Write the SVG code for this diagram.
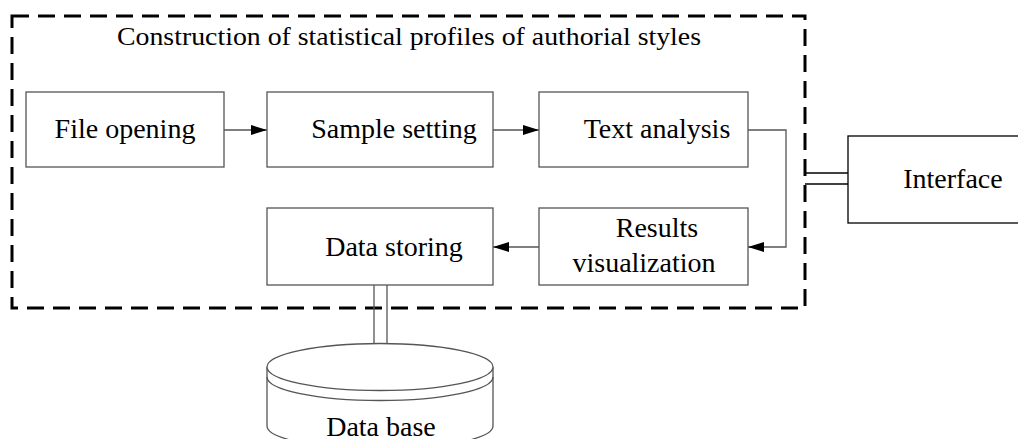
<svg xmlns="http://www.w3.org/2000/svg" width="1018" height="439" viewBox="0 0 1018 439">
<style>
.box{fill:#fff;stroke:#555;stroke-width:1.3}
.t{font-family:"Liberation Serif",serif;font-size:28px;fill:#000}
.c{fill:none;stroke:#555;stroke-width:1.3}
.k{fill:none;stroke:#000;stroke-width:1.3}
</style>
<defs>
<marker id="ah" viewBox="0 0 16 10" refX="16" refY="5" markerWidth="16" markerHeight="10" markerUnits="userSpaceOnUse" orient="auto">
<path d="M0,0 L16,5 L0,10 Z" fill="#000"/>
</marker>
</defs>
<rect width="1018" height="439" fill="#fff"/>
<g id="frame">
<rect x="12" y="16" width="793" height="292" fill="none" stroke="#000" stroke-width="3" stroke-dasharray="17 9"/>
<text class="t" x="117" y="45" style="font-size:26px" textLength="584" lengthAdjust="spacingAndGlyphs">Construction of statistical profiles of authorial styles</text>
</g>
<g id="connectors">
<line class="c" x1="224" y1="130" x2="267" y2="130" marker-end="url(#ah)"/>
<line class="c" x1="493" y1="130" x2="539" y2="130" marker-end="url(#ah)"/>
<polyline class="c" points="748,130 786,130 786,247 748,247" marker-end="url(#ah)"/>
<line class="c" x1="539" y1="247" x2="493" y2="247" marker-end="url(#ah)"/>
<line class="k" x1="805" y1="173" x2="848" y2="173"/>
<line class="k" x1="805" y1="184" x2="848" y2="184"/>
<line class="c" x1="374" y1="285" x2="374" y2="344"/>
<line class="c" x1="387" y1="285" x2="387" y2="344"/>
</g>
<g id="file-opening">
<rect class="box" x="26" y="92" width="198" height="75"/>
<text class="t" x="125" y="138" text-anchor="middle">File opening</text>
</g>
<g id="sample-setting">
<rect class="box" x="267" y="92" width="226" height="75"/>
<text class="t" x="394" y="138" text-anchor="middle">Sample setting</text>
</g>
<g id="text-analysis">
<rect class="box" x="539" y="92" width="209" height="75"/>
<text class="t" x="657" y="138" text-anchor="middle">Text analysis</text>
</g>
<g id="interface">
<rect x="848" y="136" width="180" height="87" fill="#fff" stroke="#000" stroke-width="1.3"/>
<text class="t" x="953" y="188" text-anchor="middle">Interface</text>
</g>
<g id="results-visualization">
<rect class="box" x="539" y="208" width="209" height="77"/>
<text class="t" x="657" y="237" text-anchor="middle">Results</text>
<text class="t" x="644" y="272" text-anchor="middle">visualization</text>
</g>
<g id="data-storing">
<rect class="box" x="267" y="208" width="226" height="77"/>
<text class="t" x="394" y="256" text-anchor="middle">Data storing</text>
</g>
<g id="data-base">
<path class="box" d="M267,367 L267,426 A113,23 0 0 0 493,426 L493,367"/>
<ellipse class="box" cx="380" cy="367" rx="113" ry="23.5"/>
<path class="c" d="M267,377 A113,23.5 0 0 0 493,377"/>
<text class="t" x="381" y="436" text-anchor="middle">Data base</text>
</g>
</svg>
